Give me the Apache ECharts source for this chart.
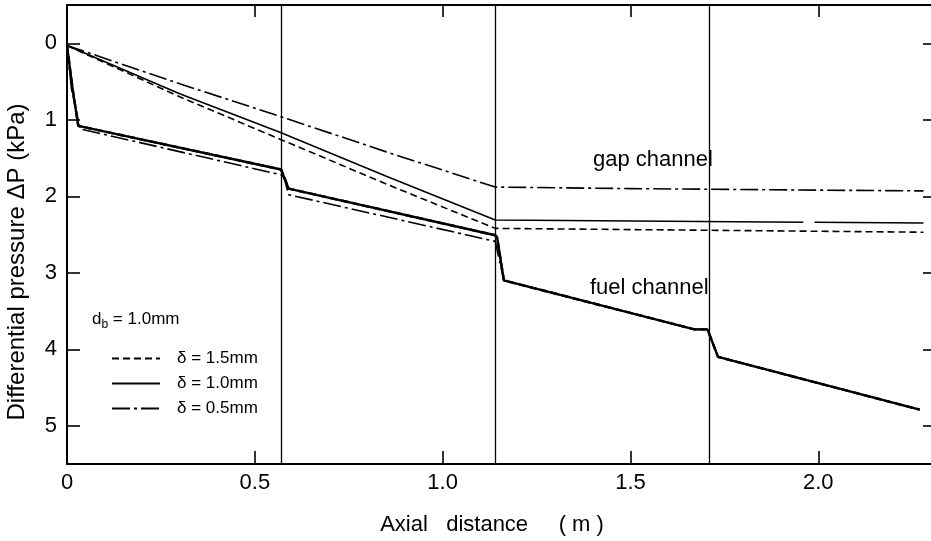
<!DOCTYPE html>
<html>
<head>
<meta charset="utf-8">
<script src="https://cdn.jsdelivr.net/npm/echarts@6/dist/echarts.min.js"></script>
<style>html,body{margin:0;padding:0;background:#fff}#c{width:931px;height:541px}</style>
</head>
<body>
<div id="c"></div>
<script>
// ---- data ----
const xTickValues = [0, 0.5, 1, 1.5, 2];
const xTickLabels = ['0', '0.5', '1.0', '1.5', '2.0'];
const yTickValues = [0, 1, 2, 3, 4, 5];
const channelBoundaries = [0.57, 1.14, 1.71];

// gap channel
const gap15X = [0, 0.3, 0.57, 0.85, 1.14, 1.6, 2.28];
const gap15Y = [0.03, 0.70, 1.26, 1.84, 2.42, 2.44, 2.47];
const gap10X = [0, 0.3, 0.57, 0.85, 1.14, 1.96, 1.965, 1.99, 2.28];
const gap10Y = [0.03, 0.66, 1.17, 1.74, 2.31, 2.34, null, 2.34, 2.35];
const gap05X = [0, 0.3, 0.57, 0.85, 1.14, 1.5, 2.0, 2.28];
const gap05Y = [0.03, 0.53, 0.96, 1.42, 1.88, 1.90, 1.92, 1.93];

// fuel channel
const fuel15X = [0, 0.015, 0.03, 0.57, 0.575, 0.59, 1.14, 1.145, 1.163, 1.67, 1.705, 1.733, 2.27];
const fuel15Y = [0.03, 0.60, 1.08, 1.65, 1.67, 1.90, 2.51, 2.54, 3.10, 3.74, 3.74, 4.10, 4.79];
const fuel10X = [0, 0.015, 0.03, 0.57, 0.575, 0.59, 1.14, 1.145, 1.163, 1.67, 1.705, 1.733, 2.27];
const fuel10Y = [0.03, 0.60, 1.08, 1.65, 1.67, 1.90, 2.51, 2.54, 3.10, 3.74, 3.74, 4.10, 4.79];
const fuel05X = [0, 0.012, 0.035, 0.57, 0.578, 0.59, 1.14, 1.163, 1.67, 1.705, 1.733, 2.27];
const fuel05Y = [0.03, 0.60, 1.12, 1.72, 1.76, 1.98, 2.59, 3.10, 3.74, 3.74, 4.10, 4.79];

const seriesNames = ['δ = 1.5mm', 'δ = 1.0mm', 'δ = 0.5mm'];

function zip(xs, ys) { return xs.map((x, i) => [x, ys[i] === null ? '-' : ys[i]]); }

const FONT = 'Liberation Sans';
const dashed = [7, 4];
const dashDot = [18, 4, 3, 4];

function line(name, data, type, width, extra) {
  return Object.assign({
    type: 'line', name: name, data: data, symbol: 'none', smooth: false,
    connectNulls: false, silent: true, animation: false,
    lineStyle: { color: '#000', width: width, type: type, cap: 'butt' },
    itemStyle: { color: '#000' }
  }, extra || {});
}

const chart = echarts.init(document.getElementById('c'), null, { renderer: 'canvas' });
chart.setOption({
  backgroundColor: '#fff',
  animation: false,
  grid: { left: 67, right: 0, top: 5, bottom: 76, containLabel: false },
  xAxis: [{
    type: 'value', position: 'bottom', min: 0, max: 2.3,
    axisLine: { show: true, onZero: false, lineStyle: { color: '#000', width: 2 } },
    axisTick: { show: true, inside: true, length: 13, customValues: xTickValues, lineStyle: { color: '#000', width: 1.6 } },
    axisLabel: { customValues: xTickValues, formatter: v => xTickLabels[xTickValues.indexOf(v)] ?? '', color: '#000', fontFamily: FONT, fontSize: 22, margin: 8 },
    splitLine: { show: false },
    name: 'Axial   distance     ( m )', nameLocation: 'middle', nameGap: 50,
    nameTextStyle: { color: '#000', fontFamily: FONT, fontSize: 22, padding: [0, 14, 0, 0] }
  }, {
    type: 'value', position: 'top', min: 0, max: 2.3,
    axisLine: { show: true, onZero: false, lineStyle: { color: '#000', width: 2 } },
    axisTick: { show: true, inside: true, length: 12, customValues: xTickValues, lineStyle: { color: '#000', width: 1.6 } },
    axisLabel: { show: false }, splitLine: { show: false }
  }],
  yAxis: [{
    type: 'value', position: 'left', min: -0.5, max: 5.5, inverse: true,
    axisLine: { show: true, onZero: false, lineStyle: { color: '#000', width: 2 } },
    axisTick: { show: true, inside: true, length: 13, customValues: yTickValues, lineStyle: { color: '#000', width: 1.6 } },
    axisLabel: { customValues: yTickValues, color: '#000', fontFamily: FONT, fontSize: 22, margin: 10 },
    splitLine: { show: false }
  }, {
    type: 'value', position: 'right', min: -0.5, max: 5.5, inverse: true,
    axisLine: { show: false, onZero: false },
    axisTick: { show: true, inside: true, length: 8, customValues: yTickValues, lineStyle: { color: '#000', width: 1.6 } },
    axisLabel: { show: false }, splitLine: { show: false }
  }],
  legend: {
    data: seriesNames, orient: 'vertical', left: 106, top: 345,
    itemWidth: 48, itemHeight: 14, itemGap: 8, selectedMode: false,
    itemStyle: { color: 'rgba(0,0,0,0)', borderWidth: 0, opacity: 0 },
    textStyle: { color: '#000', fontFamily: FONT, fontSize: 17, padding: [0, 0, 0, 12] }
  },
  graphic: [
    { type: 'text', left: 92, top: 311, style: { text: 'd{s|b} = 1.0mm', fill: '#000', font: '17px ' + FONT,
      rich: { s: { fontSize: 12, fontFamily: FONT, padding: [10, 0, 0, 0] } } } },
    { type: 'text', x: 593, y: 160, style: { text: 'gap channel', fill: '#000', font: '22px ' + FONT, textVerticalAlign: 'middle' } },
    { type: 'text', x: 590, y: 288, style: { text: 'fuel channel', fill: '#000', font: '22px ' + FONT, textVerticalAlign: 'middle' } },
    { type: 'text', x: 17, y: 262, rotation: Math.PI / 2,
      style: { text: 'Differential pressure ΔP (kPa)', fill: '#000', font: '24px ' + FONT, textAlign: 'center', textVerticalAlign: 'middle' } }
  ],
  series: [
    line(seriesNames[0], zip(gap15X, gap15Y), dashed, 1.6, {
      markLine: { silent: true, symbol: ['none', 'none'], label: { show: false }, animation: false,
        lineStyle: { color: '#000', width: 1.3, type: 'solid' },
        data: channelBoundaries.map(v => ({ xAxis: v })) }
    }),
    line(seriesNames[1], zip(gap10X, gap10Y), 'solid', 1.6),
    line(seriesNames[2], zip(gap05X, gap05Y), dashDot, 1.6),
    line(seriesNames[0], zip(fuel15X, fuel15Y), dashed, 2.4),
    line(seriesNames[1], zip(fuel10X, fuel10Y), 'solid', 2.4),
    line(seriesNames[2], zip(fuel05X, fuel05Y), dashDot, 1.6)
  ]
});
</script>
</body>
</html>
